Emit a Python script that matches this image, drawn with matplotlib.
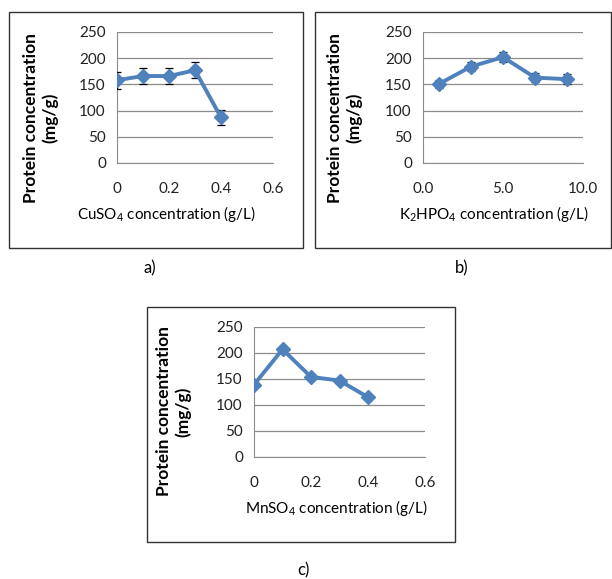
import matplotlib
matplotlib.use('Agg')
import matplotlib.pyplot as plt
from matplotlib.patches import Rectangle

plt.rcParams['font.family'] = ['Lato', 'DejaVu Sans']
plt.rcParams['mathtext.default'] = 'regular'

# panel a - CuSO4
cu_x = [0, 0.1, 0.2, 0.3, 0.4]
cu_y = [158, 166, 166, 177, 87]
cu_err = [16, 16, 15, 15, 15]

# panel b - K2HPO4
k_x = [1, 3, 5, 7, 9]
k_y = [151, 184, 202, 163, 160]
k_err = [8, 9, 9, 9, 9]

# panel c - MnSO4
mn_x = [0, 0.1, 0.2, 0.3, 0.4]
mn_y = [139, 207, 154, 147, 115]
mn_err = [3, 3, 3, 3, 3]

y_ticks = [0, 50, 100, 150, 200, 250]
line_col = '#4F81BD'

W, H = 612, 579
fig = plt.figure(figsize=(W / 100, H / 100), dpi=100)


def px_box(x0, y0, x1, y1):
    # convert pixel rect (top-left origin) to figure fraction
    return [x0 / W, 1 - y1 / H, (x1 - x0) / W, (y1 - y0) / H]


def panel(rect, box, xs, ys, errs, xlim, xticks, xticklabels, xlabel, xlab_pos, ylab_pos):
    fig.add_artist(Rectangle((box[0], box[1]), box[2], box[3], transform=fig.transFigure,
                             fill=False, edgecolor='#333333', linewidth=1.0))
    ax = fig.add_axes(rect)
    ax.errorbar(xs, ys, yerr=errs, color=line_col, linewidth=2.8, marker='D', markersize=7.5,
                ecolor='black', elinewidth=0.9, capsize=3, capthick=0.9, zorder=3)
    ax.set_xlim(*xlim)
    ax.set_ylim(0, 250)
    ax.set_yticks(y_ticks)
    ax.set_xticks(xticks)
    ax.set_xticklabels(xticklabels)
    ax.yaxis.grid(True, color='#8c8c8c', linewidth=0.9)
    ax.set_axisbelow(True)
    for s in ['top', 'right']:
        ax.spines[s].set_visible(False)
    for s in ['left', 'bottom']:
        ax.spines[s].set_color('#8c8c8c')
    ax.tick_params(length=0, labelsize=11, colors='#222222', pad=8)
    ax.tick_params(axis='x', pad=14)
    ax.text(xlab_pos[0], xlab_pos[1], xlabel, transform=ax.transAxes, ha='center', va='center',
            fontsize=11)
    ax.text(ylab_pos[0], ylab_pos[1], 'Protein concentration\n(mg/g)', transform=ax.transAxes,
            rotation=90, ha='center', va='center', fontsize=12.5, fontweight='bold',
            linespacing=1.25)
    return ax


panel(px_box(117, 32, 273, 163), px_box(9, 12, 303, 248), cu_x, cu_y, cu_err,
      (0, 0.6), [0, 0.2, 0.4, 0.6], ['0', '0.2', '0.4', '0.6'],
      'CuSO$_4$ concentration (g/L)', (0.32, -0.39), (-0.49, 0.345))

panel(px_box(423, 32, 583, 163), px_box(315, 12, 611, 248), k_x, k_y, k_err,
      (0, 10), [0, 5, 10], ['0.0', '5.0', '10.0'],
      'K$_2$HPO$_4$ concentration (g/L)', (0.44, -0.39), (-0.49, 0.345))

panel(px_box(254, 327, 425, 457), px_box(147, 307, 455, 542), mn_x, mn_y, mn_err,
      (0, 0.6), [0, 0.2, 0.4, 0.6], ['0', '0.2', '0.4', '0.6'],
      'MnSO$_4$ concentration (g/L)', (0.48, -0.39), (-0.47, 0.35))

fig.text(150 / W, 1 - 268 / H, 'a)', ha='center', va='center', fontsize=12)
fig.text(462 / W, 1 - 268 / H, 'b)', ha='center', va='center', fontsize=12)
fig.text(303 / W, 1 - 570 / H, 'c)', ha='center', va='center', fontsize=12)

plt.savefig('out.png', dpi=100)
